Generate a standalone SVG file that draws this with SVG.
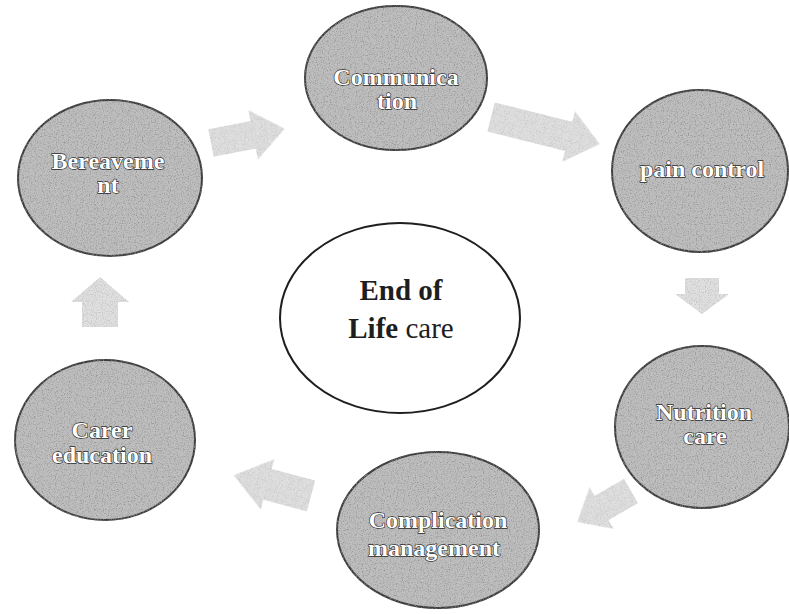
<svg xmlns="http://www.w3.org/2000/svg" width="789" height="614" viewBox="0 0 789 614">
  <defs>
    <filter id="grain" x="-5%" y="-5%" width="110%" height="110%">
      <feTurbulence type="fractalNoise" baseFrequency="0.85" numOctaves="2" seed="4" result="n"/>
      <feColorMatrix in="n" type="matrix" values="0 0 0 0 0.25  0 0 0 0 0.25  0 0 0 0 0.25  0 0 0 2.4 -1.15" result="dots"/>
      <feComposite in="dots" in2="SourceGraphic" operator="in" result="d2"/>
      <feMerge><feMergeNode in="SourceGraphic"/><feMergeNode in="d2"/></feMerge>
    </filter>
    <filter id="grainL" x="-5%" y="-5%" width="110%" height="110%">
      <feTurbulence type="fractalNoise" baseFrequency="0.9" numOctaves="2" seed="7" result="n"/>
      <feColorMatrix in="n" type="matrix" values="0 0 0 0 0.5  0 0 0 0 0.5  0 0 0 0 0.5  0 0 0 2.4 -1.1" result="dots"/>
      <feComposite in="dots" in2="SourceGraphic" operator="in" result="d2"/>
      <feMerge><feMergeNode in="SourceGraphic"/><feMergeNode in="d2"/></feMerge>
    </filter>
  </defs>
  <style>
    .blob { fill: #bebebe; stroke: #3c3c3c; stroke-width: 2; filter: url(#grain); }
    .lbl { font-family: "Liberation Serif", "Times New Roman", serif; font-size: 24px; font-weight: bold; fill: #ffffff; stroke: #2a2a2a; stroke-width: 1.3px; paint-order: stroke; text-anchor: middle; }
    .arrow { fill: #e0e0e0; stroke: none; filter: url(#grainL); }
    .core { fill: #ffffff; stroke: #1e1e1e; stroke-width: 2; }
    .ctext { font-family: "Liberation Serif", "Times New Roman", serif; font-size: 29px; fill: #1e1e1e; text-anchor: middle; }
  </style>
  <rect width="789" height="614" fill="#ffffff"/>

  <g id="connectors">
    <path class="arrow" transform="translate(211,143) rotate(-11)" d="M0,-14 L43,-14 L43,-25 L75,0 L43,25 L43,14 L0,14 Z"/>
    <path class="arrow" transform="translate(491,117) rotate(14)" d="M0,-15 L80,-15 L80,-26 L112,0 L80,26 L80,15 L0,15 Z"/>
    <path class="arrow" transform="translate(702,278) rotate(90)" d="M0,-17 L16,-17 L16,-27 L36,0 L16,27 L16,17 L0,17 Z"/>
    <path class="arrow" transform="translate(631,491) rotate(150)" d="M0,-14 L34,-14 L34,-24 L62,0 L34,24 L34,14 L0,14 Z"/>
    <path class="arrow" transform="translate(311,496) rotate(195)" d="M0,-16 L45,-16 L45,-26 L80,0 L45,26 L45,16 L0,16 Z"/>
    <path class="arrow" transform="translate(100,327) rotate(-90)" d="M0,-18 L25,-18 L25,-29 L50,0 L25,29 L25,18 L0,18 Z"/>
  </g>

  <g id="center">
    <ellipse class="core" cx="400" cy="318" rx="120" ry="95"/>
    <text class="ctext" x="401" y="300" font-weight="bold">End of</text>
    <text class="ctext" x="401" y="338"><tspan font-weight="bold">Life</tspan> care</text>
  </g>

  <g id="communication">
    <ellipse class="blob" cx="396" cy="78" rx="91" ry="72"/>
    <text class="lbl" x="396" y="85">Communica</text>
    <text class="lbl" x="397" y="109">tion</text>
  </g>

  <g id="pain-control">
    <ellipse class="blob" cx="700" cy="171" rx="88" ry="81"/>
    <text class="lbl" x="702" y="177">pain control</text>
  </g>

  <g id="nutrition-care">
    <ellipse class="blob" cx="702" cy="427" rx="87" ry="81"/>
    <text class="lbl" x="704" y="420">Nutrition</text>
    <text class="lbl" x="705" y="444">care</text>
  </g>

  <g id="complication-management">
    <ellipse class="blob" cx="438" cy="530" rx="101" ry="78"/>
    <text class="lbl" x="438" y="528">Complication</text>
    <text class="lbl" x="434" y="556">management</text>
  </g>

  <g id="carer-education">
    <ellipse class="blob" cx="105" cy="440" rx="90" ry="80"/>
    <text class="lbl" x="102" y="438">Carer</text>
    <text class="lbl" x="102" y="463">education</text>
  </g>

  <g id="bereavement">
    <ellipse class="blob" cx="110" cy="178" rx="92" ry="78"/>
    <text class="lbl" x="108" y="169">Bereaveme</text>
    <text class="lbl" x="108" y="193">nt</text>
  </g>
</svg>
